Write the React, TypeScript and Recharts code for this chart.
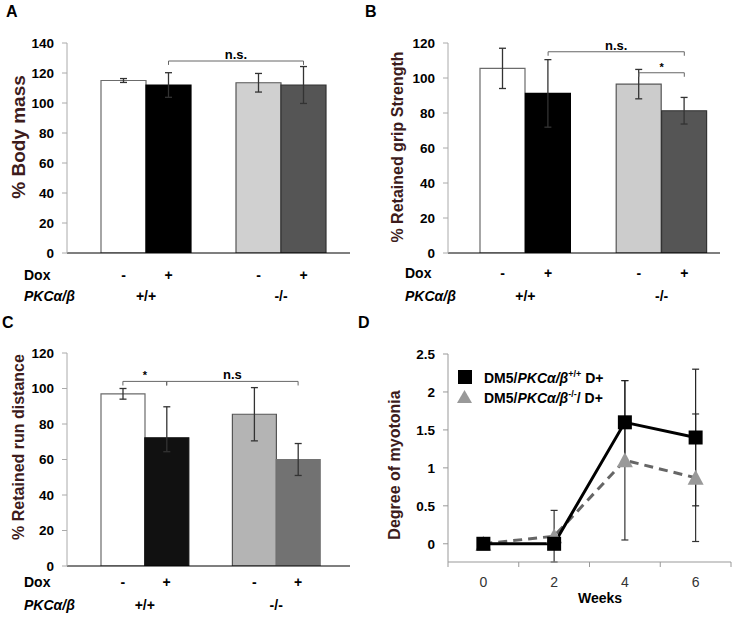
import React from 'react'
import { BarChart, Bar, XAxis, YAxis, ErrorBar, Cell, ReferenceLine, LineChart, Line } from 'recharts'

// bar panels: 5 slots, the middle one is the gap between genotypes
const conditions = ['WT Dox-', 'WT Dox+', 'gap', 'KO Dox-', 'KO Dox+']
const doxSigns = ['-', '+', '', '-', '+']
const genotypeLabels = ['+/+', '', '', '-/-', '']

const bodyMass = [115, 112, null, 113.5, 112]
const bodyMassErr = [1.3, 8.2, null, 6.2, 12.3]
const gripStrength = [105.5, 91.2, null, 96.5, 81.3]
const gripErr = [11.5, 19.3, null, 8.4, 7.6]
const runDistance = [97, 72.2, null, 85.5, 60]
const runErr: any[] = [3, [7.8, 17.5], null, 15, 9]

const bodyMassTicks = [0, 20, 40, 60, 80, 100, 120, 140]
const pctTicks = [0, 20, 40, 60, 80, 100, 120]

// panel D
const weeks = [0, 2, 4, 6]
const wtMyotonia = [0, 0, 1.6, 1.4]
const wtMyotoniaErr = [null, null, 0.55, 0.9]
const koMyotonia = [0, 0.1, 1.1, 0.87]
const koMyotoniaErr = [null, 0.34, 1.05, 0.84]
const myotoniaTicks = [0, 0.5, 1, 1.5, 2, 2.5]
const weekTicks = [-1, 0, 1, 2, 3, 4, 5, 6, 7]

const FONT = '"Liberation Sans", Arial, sans-serif'
const LABEL_COLOR = '#3d1c1c'

type Bracket = { from: string; to: string; y: number; drop: number; text: string; size?: number }

function BarPanel(p: any) {
  const data = conditions.map((c, i) => ({ cond: c, value: p.values[i], err: p.errs[i] }))
  const band = (p.plot.right - p.plot.left - p.padL - p.padR) / conditions.length
  const xh = 50

  const tick = (t: any) => {
    const i = conditions.indexOf(t.payload.value)
    return (
      <g fontFamily={FONT} fontWeight={700} fontSize={14} fill="#000">
        <text x={t.x} y={t.y + p.signDy} textAnchor="middle">{doxSigns[i]}</text>
        {genotypeLabels[i] && (
          <text x={t.x + band / 2} y={t.y + p.genoDy} textAnchor="middle">{genotypeLabels[i]}</text>
        )}
        {i === 0 && (
          <>
            <text x={p.rowX} y={t.y + p.signDy}>Dox</text>
            <text x={p.rowX} y={t.y + p.genoDy} fontStyle="italic">PKCα/β</text>
          </>
        )}
      </g>
    )
  }

  const refs = p.brackets.flatMap((b: Bracket, k: number) => [
    <ReferenceLine key={'h' + k} segment={[{ x: b.from, y: b.y }, { x: b.to, y: b.y }]} stroke="#666" strokeWidth={1}
      ifOverflow="visible"
      label={{ value: b.text, position: 'top', offset: 2, fill: '#000', fontSize: b.size || 13, fontWeight: 700, fontFamily: FONT }} />,
    <ReferenceLine key={'l' + k} segment={[{ x: b.from, y: b.y }, { x: b.from, y: b.y - b.drop }]} stroke="#666" strokeWidth={1} ifOverflow="visible" />,
    <ReferenceLine key={'r' + k} segment={[{ x: b.to, y: b.y }, { x: b.to, y: b.y - b.drop }]} stroke="#666" strokeWidth={1} ifOverflow="visible" />,
  ])

  return (
    <div style={{ position: 'absolute', left: p.x, top: p.y }}>
      <BarChart width={p.width} height={p.height} data={data} barCategoryGap={0}
        margin={{ top: p.plot.top, right: p.width - p.plot.right, bottom: p.height - p.plot.bottom - xh, left: 0 }}>
        <XAxis dataKey="cond" padding={{ left: p.padL, right: p.padR }} axisLine={{ stroke: '#000', strokeWidth: 1.2 }}
          tickLine={false} tickSize={0} tickMargin={0} height={xh} interval={0} tick={tick} />
        <YAxis width={p.plot.left} domain={p.domain} ticks={p.ticks} interval={0} allowDataOverflow
          axisLine={{ stroke: '#aaa' }} tickLine={{ stroke: '#aaa' }} tickSize={5} tickMargin={8}
          tick={{ fill: '#000', fontSize: 13.5, fontWeight: 700, fontFamily: FONT }} />
        <Bar dataKey="value" isAnimationActive={false}>
          {data.map((d, i) => (
            <Cell key={i} fill={p.fills[i]} stroke={p.strokes[i]} strokeWidth={1.2} />
          ))}
          <ErrorBar dataKey="err" width={3.5} stroke="#333" strokeWidth={1.3} direction="y" />
        </Bar>
        {refs}
      </BarChart>
    </div>
  )
}

function MyotoniaPanel() {
  const data = weeks.map((w, i) => ({
    week: w, wt: wtMyotonia[i], wtErr: wtMyotoniaErr[i], ko: koMyotonia[i], koErr: koMyotoniaErr[i],
  }))
  const plot = { left: 83, right: 366, top: 44, bottom: 252 }
  const width = 368, height = 307, xh = 45

  const tick = (t: any) => {
    const v = t.payload.value
    if (v % 2 !== 0) return <line x1={t.x} y1={t.y} x2={t.x} y2={t.y + 5} stroke="#999" />
    return <text x={t.x} y={t.y + 25} textAnchor="middle" fontFamily={FONT} fontSize={14} fill="#333">{v}</text>
  }

  const square = (d: any) => (
    <rect key={'s' + d.index} x={d.cx - 7} y={d.cy - 7} width={14} height={14} fill="#000" />
  )
  const triangle = (d: any) => (
    <polygon key={'t' + d.index} points={`${d.cx - 8},${d.cy + 7} ${d.cx + 8},${d.cy + 7} ${d.cx},${d.cy - 8}`} fill="#999" />
  )

  return (
    <div style={{ position: 'absolute', left: 365, top: 310 }}>
      <LineChart width={width} height={height} data={data}
        margin={{ top: plot.top, right: width - plot.right, bottom: height - plot.bottom - xh, left: 0 }}>
        <XAxis dataKey="week" type="number" domain={[-1, 7]} ticks={weekTicks} interval={0}
          axisLine={{ stroke: '#999' }} tickLine={false} tickSize={0} tickMargin={0} height={xh} tick={tick} />
        <YAxis width={plot.left} domain={[0, 2.5]} ticks={myotoniaTicks} interval={0}
          axisLine={{ stroke: '#999' }} tickLine={{ stroke: '#999' }} tickSize={5} tickMargin={8}
          tick={{ fill: '#000', fontSize: 13.5, fontWeight: 700, fontFamily: FONT }} />
        <Line dataKey="ko" stroke="#666" strokeWidth={3} strokeDasharray="9 6" dot={triangle} isAnimationActive={false}>
          <ErrorBar dataKey="koErr" width={3.5} stroke="#333" strokeWidth={1.2} direction="y" />
        </Line>
        <Line dataKey="wt" stroke="#000" strokeWidth={3} dot={square} isAnimationActive={false}>
          <ErrorBar dataKey="wtErr" width={3.5} stroke="#222" strokeWidth={1.2} direction="y" />
        </Line>
      </LineChart>
    </div>
  )
}

function VLabel({ cx, cy, size, children }: any) {
  return (
    <text transform={`translate(${cx + size * 0.36},${cy}) rotate(-90)`} textAnchor="middle"
      fontFamily={FONT} fontWeight={700} fontSize={size} fill={LABEL_COLOR}>{children}</text>
  )
}

export default function App() {
  return (
    <div style={{ position: 'absolute', left: 0, top: 0, width: 733, height: 617, background: '#fff' }}>
      <BarPanel x={0} y={0} width={365} height={310}
        plot={{ left: 67, right: 350, top: 43, bottom: 253 }} padL={34} padR={24}
        values={bodyMass} errs={bodyMassErr} domain={[0, 140]} ticks={bodyMassTicks}
        fills={['#fff', '#000', 'none', '#d0d0d0', '#555']} strokes={['#6b6b6b', '#000', 'none', '#555', '#333']}
        signDy={27} genoDy={48} rowX={24}
        brackets={[{ from: 'WT Dox+', to: 'KO Dox+', y: 128, drop: 2.6, text: 'n.s.' }]} />
      <BarPanel x={365} y={0} width={368} height={310}
        plot={{ left: 83, right: 355, top: 43, bottom: 253 }} padL={32} padR={13}
        values={gripStrength} errs={gripErr} domain={[0, 120]} ticks={pctTicks}
        fills={['#fff', '#000', 'none', '#cccccc', '#555']} strokes={['#6b6b6b', '#000', 'none', '#555', '#333']}
        signDy={25} genoDy={48} rowX={40}
        brackets={[
          { from: 'WT Dox+', to: 'KO Dox+', y: 115, drop: 2.3, text: 'n.s.' },
          { from: 'KO Dox-', to: 'KO Dox+', y: 103, drop: 2.3, text: '*', size: 11 },
        ]} />
      <BarPanel x={0} y={310} width={365} height={307}
        plot={{ left: 67, right: 350, top: 43, bottom: 256 }} padL={34} padR={30}
        values={runDistance} errs={runErr} domain={[0, 120]} ticks={pctTicks}
        fills={['#fff', '#111', 'none', '#b4b4b4', '#727272']} strokes={['#6b6b6b', '#111', 'none', '#555', '#727272']}
        signDy={21} genoDy={44} rowX={24}
        brackets={[
          { from: 'WT Dox-', to: 'WT Dox+', y: 104, drop: 2.3, text: '*', size: 11 },
          { from: 'WT Dox+', to: 'KO Dox+', y: 104, drop: 2.3, text: 'n.s' },
        ]} />
      <MyotoniaPanel />
      <svg width={733} height={617} style={{ position: 'absolute', left: 0, top: 0, pointerEvents: 'none' }}>
        <g fontFamily={FONT} fontWeight={700} fontSize={16} fill="#000">
          <text x={6} y={17}>A</text>
          <text x={365} y={17}>B</text>
          <text x={2} y={328}>C</text>
          <text x={358} y={328}>D</text>
        </g>
        <VLabel cx={18} cy={137} size={19}>% Body mass</VLabel>
        <VLabel cx={397} cy={147} size={16}>% Retained grip Strength</VLabel>
        <VLabel cx={18} cy={447} size={16}>% Retained run distance</VLabel>
        <VLabel cx={394} cy={465} size={16}>Degree of myotonia</VLabel>
        <text x={600} y={603} textAnchor="middle" fontFamily={FONT} fontWeight={700} fontSize={14}>Weeks</text>
        <rect x={458} y={370} width={14} height={14} fill="#000" />
        <polygon points="457,403 472,403 464.5,390" fill="#999" />
        <g fontFamily={FONT} fontWeight={700} fontSize={14} fill="#000">
          <text x={484} y={383}>
            DM5/<tspan fontStyle="italic">PKCα/β</tspan><tspan dy={-6} fontSize={9}>+/+</tspan><tspan dy={6}> D+</tspan>
          </text>
          <text x={484} y={403}>
            DM5/<tspan fontStyle="italic">PKCα/β</tspan><tspan dy={-6} fontSize={9}>-/-</tspan><tspan dy={6}>/ D+</tspan>
          </text>
        </g>
      </svg>
    </div>
  )
}
